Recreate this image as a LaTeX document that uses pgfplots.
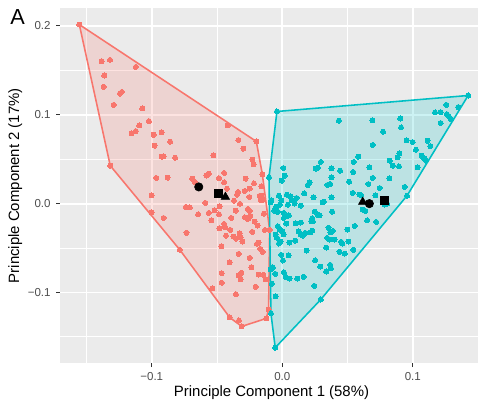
\documentclass[border=0pt]{standalone}
\usepackage{fontspec}
\setmainfont{Liberation Sans}
\usepackage{pgfplots}
\usepackage{pgfplotstable}
\pgfplotsset{compat=1.18}
\definecolor{gred}{HTML}{F8766D}
\definecolor{gcyan}{HTML}{00BFC4}
\definecolor{panelc}{HTML}{EBEBEB}
\definecolor{tickc}{HTML}{4D4D4D}
\definecolor{tickm}{HTML}{333333}

\pgfplotstableread{
x y
-0.1555 0.2015
-0.1384 0.1603
-0.1320 0.1618
-0.1122 0.1539
-0.1364 0.1442
-0.1369 0.1315
-0.1244 0.1239
-0.1229 0.1258
-0.1292 0.1112
-0.1073 0.1071
-0.1022 0.0929
-0.1096 0.0880
-0.1122 0.0817
-0.1154 0.0790
-0.0986 0.0775
-0.0925 0.0801
-0.0979 0.0652
-0.0859 0.0697
-0.0925 0.0528
-0.0910 0.0531
-0.0821 0.0517
-0.0528 0.0543
-0.0418 0.0880
-0.0336 0.0716
-0.0298 0.0618
-0.0199 0.0700
-0.0229 0.0494
-0.0219 0.0442
-0.0153 0.0331
-0.1318 0.0427
-0.0965 0.0289
-0.0879 0.0292
-0.0690 0.0281
-0.0670 0.0244
-0.0581 0.0315
-0.0563 0.0337
-0.0485 0.0287
-0.0446 0.0346
-0.0446 0.0239
-0.0281 0.0281
-0.0217 0.0228
-0.0424 0.0169
-0.0339 0.0131
-0.0347 0.0101
-0.0288 0.0143
-0.0250 0.0169
-0.0174 0.0087
-0.0164 0.0037
-0.0370 0.0034
-0.0252 0.0075
-0.0324 -0.0003
-0.1002 0.0093
-0.0739 -0.0037
-0.0709 -0.0042
-0.0589 0.0008
-0.0479 -0.0030
-0.0357 -0.0079
-0.0263 -0.0060
-0.0250 -0.0082
-0.0141 -0.0112
-0.1002 -0.0098
-0.0645 -0.0120
-0.0563 -0.0104
-0.0518 -0.0075
-0.0485 -0.0120
-0.0286 -0.0154
-0.0263 -0.0172
-0.0245 -0.0138
-0.0390 -0.0161
-0.0910 -0.0161
-0.0543 -0.0188
-0.0212 -0.0202
-0.0189 -0.0247
-0.0446 -0.0228
-0.0439 -0.0262
-0.0482 -0.0278
-0.0398 -0.0296
-0.0734 -0.0329
-0.0431 -0.0360
-0.0326 -0.0334
-0.0319 -0.0382
-0.0375 -0.0371
-0.0355 -0.0393
-0.0306 -0.0427
-0.0229 -0.0318
-0.0133 -0.0296
-0.0097 -0.0296
-0.0181 -0.0438
-0.0194 -0.0453
-0.0466 -0.0480
-0.0168 -0.0509
-0.0151 -0.0543
-0.0785 -0.0520
-0.0334 -0.0565
-0.0250 -0.0610
-0.0403 -0.0660
-0.0237 -0.0716
-0.0464 -0.0783
-0.0313 -0.0779
-0.0334 -0.0809
-0.0319 -0.0851
-0.0181 -0.0798
-0.0145 -0.0801
-0.0128 -0.0851
-0.0464 -0.0891
-0.0204 -0.0936
-0.0535 -0.0955
-0.0355 -0.1019
-0.0105 -0.1191
-0.0403 -0.1281
-0.0332 -0.1315
-0.0311 -0.1382
-0.0122 -0.1292
-0.0161 0.0194
-0.0161 0.0090
-0.0148 0.0045
}\redpts

\pgfplotstableread{
x y
0.0433 0.0933
0.0690 0.0936
0.0904 0.0958
0.0910 0.0857
0.0772 0.0809
0.1170 0.1026
0.1213 0.1030
0.1256 0.1112
0.1348 0.1087
0.1261 0.1008
0.1277 0.0981
0.1292 0.0952
0.1213 0.0907
0.0953 0.0711
0.0998 0.0693
0.1113 0.0708
0.1134 0.0648
0.0693 0.0660
0.1024 0.0607
0.0897 0.0565
0.0884 0.0520
0.1067 0.0539
0.1088 0.0506
0.1101 0.0483
0.0583 0.0528
0.0547 0.0469
0.0823 0.0483
0.0846 0.0427
0.0894 0.0419
0.1037 0.0408
0.0295 0.0469
0.0008 0.0401
0.0255 0.0393
0.0272 0.0404
0.0377 0.0397
0.0443 0.0371
0.0667 0.0408
0.0543 0.0356
0.0018 0.0315
-0.0005 0.0258
0.0377 0.0296
0.0367 0.0221
0.0693 0.0289
0.0820 0.0284
0.0512 0.0247
0.0660 0.0221
0.0209 0.0239
0.0196 0.0210
0.0937 0.0188
0.0746 0.0176
0.0346 0.0210
0.0168 0.0116
0.0239 0.0071
0.0377 0.0071
0.0540 0.0120
0.0591 0.0101
0.0604 0.0093
0.0713 0.0093
0.0310 0.0015
0.0318 0.0022
0.0382 -0.0090
-0.0084 0.0037
-0.0089 0.0015
-0.0026 0.0090
0.0035 0.0101
0.0063 0.0082
0.0073 0.0037
0.0109 0.0064
0.0043 -0.0011
0.0094 0.0000
0.0142 -0.0022
-0.0018 -0.0011
-0.0008 0.0037
-0.0046 -0.0034
-0.0061 -0.0079
-0.0036 -0.0093
0.0010 -0.0104
0.0012 -0.0161
0.0035 -0.0143
0.0050 -0.0131
0.0249 -0.0090
0.0275 -0.0131
0.0285 -0.0131
0.0229 -0.0165
0.0222 -0.0199
0.0234 -0.0199
0.0616 -0.0067
0.0637 -0.0082
0.0650 -0.0188
0.0719 -0.0206
0.0784 -0.0011
0.0803 0.0000
0.0102 -0.0221
0.0142 -0.0213
0.0031 -0.0225
-0.0034 -0.0255
-0.0021 -0.0292
0.0000 -0.0311
0.0010 -0.0345
0.0125 -0.0311
0.0140 -0.0345
0.0157 -0.0360
0.0176 -0.0329
0.0214 -0.0322
0.0229 -0.0303
0.0354 -0.0273
0.0369 -0.0322
0.0387 -0.0307
0.0499 -0.0292
0.0555 -0.0251
-0.0051 -0.0348
-0.0041 -0.0385
-0.0013 -0.0427
-0.0026 -0.0449
0.0054 -0.0438
0.0099 -0.0416
0.0344 -0.0385
0.0362 -0.0404
0.0400 -0.0404
0.0451 -0.0430
0.0459 -0.0449
0.0507 -0.0427
0.0336 -0.0494
0.0186 -0.0528
0.0438 -0.0543
0.0479 -0.0562
0.0545 -0.0520
-0.0008 -0.0576
0.0048 -0.0581
0.0005 -0.0640
0.0252 -0.0637
0.0291 -0.0708
0.0336 -0.0764
0.0367 -0.0689
0.0372 -0.0727
-0.0072 -0.0719
-0.0089 -0.0742
-0.0054 -0.0790
0.0012 -0.0772
0.0025 -0.0824
0.0056 -0.0843
0.0115 -0.0843
0.0163 -0.0824
-0.0080 -0.0902
0.0245 -0.0925
-0.0051 -0.1045
-0.0041 0.1037
0.1424 0.1217
0.0956 0.0090
0.0295 -0.1079
-0.0054 -0.1621
-0.0087 -0.1236
-0.0102 0.0296
}\cyanpts

\begin{document}
\begin{tikzpicture}
\begin{axis}[name=ax, scale only axis, width=308.7pt, height=261.7pt,
  xmin=-0.1704, xmax=0.1508, ymin=-0.1798, ymax=0.2202,
  axis background/.style={fill=panelc},
  axis line style={draw=none},
  xtick={-0.1,0,0.1}, xticklabels={−0.1,0.0,0.1},
  ytick={-0.1,0,0.1,0.2}, yticklabels={−0.1,0.0,0.1,0.2},
  minor xtick={-0.15,-0.05,0.05,0.15}, minor ytick={-0.15,-0.05,0.05,0.15},
  grid=both,
  major grid style={white, line width=1.3pt},
  minor grid style={white, line width=0.65pt},
  tick align=outside, tick pos=left,
  major tick length=2.75pt, minor tick length=0pt,
  major tick style={tickm, line width=0.75pt},
  ticklabel style={font=\fontsize{8.5}{10}\selectfont, text=tickc, inner sep=0pt},
  xticklabel style={anchor=north, yshift=-3.8pt},
  yticklabel style={anchor=east, xshift=-3.9pt},
]
\addplot[fill=gred, fill opacity=0.2, draw=gred, line width=1.15pt, draw opacity=1]
  coordinates {(-0.1555,0.2015) (-0.0199,0.0700) (-0.0153,0.0331) (-0.0097,-0.0296) (-0.0105,-0.1191) (-0.0122,-0.1292) (-0.0311,-0.1382) (-0.0403,-0.1281) (-0.0785,-0.0520) (-0.1318,0.0427)} -- cycle;
\addplot[fill=gcyan, fill opacity=0.2, draw=gcyan, line width=1.15pt, draw opacity=1]
  coordinates {(-0.0041,0.1037) (0.1424,0.1217) (0.0956,0.0090) (0.0295,-0.1079) (-0.0054,-0.1621) (-0.0087,-0.1236) (-0.0102,0.0296)} -- cycle;
\addplot[only marks, mark=*, mark size=1.85pt, mark options={fill=gred, draw=gred, line width=0pt}] table[x=x,y=y] {\redpts};
\addplot[only marks, mark=*, mark size=1.85pt, mark options={fill=gcyan, draw=gcyan, line width=0pt}] table[x=x,y=y] {\cyanpts};
\addplot[only marks, mark=*, mark size=3.1pt, black] coordinates {(-0.0640,0.0188) (0.0667,0.0000)};
\addplot[only marks, mark=square*, mark size=3.0pt, black] coordinates {(-0.0492,0.0120) (0.0784,0.0042)};
\addplot[only marks, mark=triangle*, mark size=3.6pt, black] coordinates {(-0.0436,0.0075) (0.0616,0.0019)};
\end{axis}
\node[anchor=base, font=\fontsize{11}{13}\selectfont] at ([xshift=1.5pt, yshift=-24.3pt]ax.south) {Principle Component 1 (58\%)};
\node[anchor=base, rotate=90, font=\fontsize{11}{13}\selectfont] at ([xshift=-30.1pt]ax.west) {Principle Component 2 (17\%)};
\node[anchor=base west, inner sep=0pt, font=\fontsize{16}{19}\selectfont] at ([xshift=-36.75pt, yshift=-12.5pt]ax.north west) {A};
\path[use as bounding box] ([xshift=-44.1pt, yshift=-29.4pt]ax.south west) rectangle ([yshift=5.88pt]ax.north east);
\end{tikzpicture}
\end{document}
